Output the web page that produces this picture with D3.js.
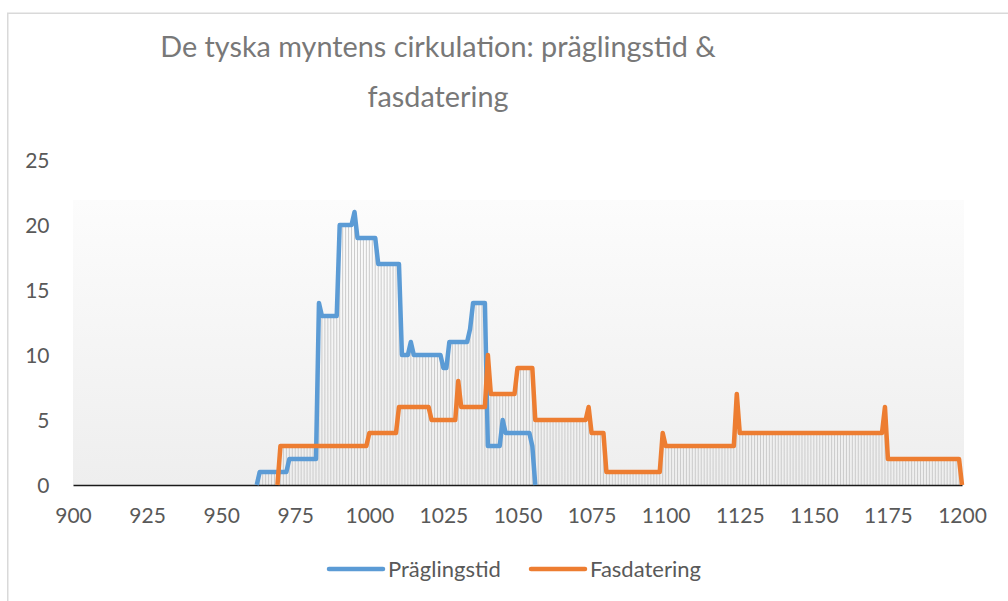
<!DOCTYPE html>
<html>
<head>
<meta charset="utf-8">
<script src="https://cdn.jsdelivr.net/npm/d3@7"></script>
<style>
  html, body { margin: 0; padding: 0; background: #ffffff; }
  svg { display: block; }
  text { font-family: Lato, "Open Sans", "Liberation Sans", sans-serif; }
</style>
</head>
<body>
<svg id="chart" width="1008" height="601"></svg>
<script>
// ---------- DATA ----------
const titleLines = ["De tyska myntens cirkulation: präglingstid &", "fasdatering"];
const seriesNames = ["Präglingstid", "Fasdatering"];
const seriesColors = ["#5b9bd5", "#ed7d31"];
const xTicks = [900, 925, 950, 975, 1000, 1025, 1050, 1075, 1100, 1125, 1150, 1175, 1200];
const yTicks = [0, 5, 10, 15, 20, 25];

// Präglingstid: one value per year, 962 .. 1056
const praglingStart = 962;
const praglingValues = [
  0, 1, 1, 1, 1, 1, 1, 1,                 // 962-969
  1, 1, 1, 2, 2, 2, 2, 2, 2, 2,           // 970-979
  2, 2, 2, 14, 13, 13, 13, 13, 13, 13,    // 980-989
  20, 20, 20, 20, 20, 21, 19, 19, 19, 19, // 990-999
  19, 19, 19, 17, 17, 17, 17, 17, 17, 17, // 1000-1009
  17, 10, 10, 10, 11, 10, 10, 10, 10, 10, // 1010-1019
  10, 10, 10, 10, 10, 9, 9, 11, 11, 11,   // 1020-1029
  11, 11, 11, 11, 12, 14, 14, 14, 14, 14, // 1030-1039
  3, 3, 3, 3, 3, 5, 4, 4, 4, 4,           // 1040-1049
  4, 4, 4, 4, 4, 3, 0                     // 1050-1056
];

// Fasdatering: one value per year, 969 .. 1200
const fasStart = 969;
const fasValues = [
  0,                                      // 969
  3, 3, 3, 3, 3, 3, 3, 3, 3, 3,           // 970-979
  3, 3, 3, 3, 3, 3, 3, 3, 3, 3,           // 980-989
  3, 3, 3, 3, 3, 3, 3, 3, 3, 3,           // 990-999
  4, 4, 4, 4, 4, 4, 4, 4, 4, 4,           // 1000-1009
  6, 6, 6, 6, 6, 6, 6, 6, 6, 6,           // 1010-1019
  6, 5, 5, 5, 5, 5, 5, 5, 5, 5,           // 1020-1029
  8, 6, 6, 6, 6, 6, 6, 6, 6, 6,           // 1030-1039
  10, 7, 7, 7, 7, 7, 7, 7, 7, 7,          // 1040-1049
  9, 9, 9, 9, 9, 9, 5, 5, 5, 5,           // 1050-1059
  5, 5, 5, 5, 5, 5, 5, 5, 5, 5,           // 1060-1069
  5, 5, 5, 5, 6, 4, 4, 4, 4, 4,           // 1070-1079
  1, 1, 1, 1, 1, 1, 1, 1, 1, 1,           // 1080-1089
  1, 1, 1, 1, 1, 1, 1, 1, 1, 4,           // 1090-1099
  3, 3, 3, 3, 3, 3, 3, 3, 3, 3,           // 1100-1109
  3, 3, 3, 3, 3, 3, 3, 3, 3, 3,           // 1110-1119
  3, 3, 3, 3, 7, 4, 4, 4, 4, 4,           // 1120-1129
  4, 4, 4, 4, 4, 4, 4, 4, 4, 4,           // 1130-1139
  4, 4, 4, 4, 4, 4, 4, 4, 4, 4,           // 1140-1149
  4, 4, 4, 4, 4, 4, 4, 4, 4, 4,           // 1150-1159
  4, 4, 4, 4, 4, 4, 4, 4, 4, 4,           // 1160-1169
  4, 4, 4, 4, 6, 2, 2, 2, 2, 2,           // 1170-1179
  2, 2, 2, 2, 2, 2, 2, 2, 2, 2,           // 1180-1189
  2, 2, 2, 2, 2, 2, 2, 2, 2, 2,           // 1190-1199
  0                                       // 1200
];

// ---------- BUILD ----------
const pragling = praglingValues.map((v, i) => ({ year: praglingStart + i, value: v }));
const fas = fasValues.map((v, i) => ({ year: fasStart + i, value: v }));
const series = [pragling, fas];

const svg = d3.select("#chart");
const x = d3.scaleLinear().domain([900, 1200]).range([73, 962]);
const y = d3.scaleLinear().domain([0, 25]).range([485, 160]);

// chart border (left + top visible)
svg.append("path")
  .attr("d", "M7.75,601 V13.25 H1008")
  .attr("fill", "none")
  .attr("stroke", "#d9d9d9")
  .attr("stroke-width", 1.5);

// plot area gradient
const defs = svg.append("defs");
const grad = defs.append("linearGradient").attr("id", "pa").attr("x1", 0).attr("y1", 0).attr("x2", 0).attr("y2", 1);
grad.append("stop").attr("offset", "0%").attr("stop-color", "#fcfcfc");
grad.append("stop").attr("offset", "100%").attr("stop-color", "#eeeeee");
svg.append("rect")
  .attr("x", 73).attr("y", 200)
  .attr("width", 891).attr("height", 285)
  .attr("fill", "url(#pa)");

// title
svg.append("g").selectAll("text").data(titleLines).join("text")
  .attr("x", 438)
  .attr("y", (d, i) => 57 + i * 50)
  .attr("text-anchor", "middle")
  .attr("fill", "#787878")
  .attr("font-size", 28.8)
  .text(d => d);

// drop lines: each year from highest series value to the axis
const byYear = new Map();
series.forEach(s => s.forEach(p => {
  byYear.set(p.year, Math.max(byYear.has(p.year) ? byYear.get(p.year) : -Infinity, p.value));
}));
const drops = Array.from(byYear, ([year, value]) => ({ year, value })).sort((a, b) => a.year - b.year);
svg.append("g").selectAll("line").data(drops).join("line")
  .attr("x1", d => x(d.year)).attr("x2", d => x(d.year))
  .attr("y1", d => y(d.value)).attr("y2", y(0))
  .attr("stroke", "#cbcbcb")
  .attr("stroke-width", 1);

// x axis
const xAxis = svg.append("g")
  .attr("transform", `translate(0,${y(0)})`)
  .call(d3.axisBottom(x).tickValues(xTicks).tickFormat(d3.format("d")).tickSize(0).tickSizeOuter(0));
xAxis.select(".domain").attr("stroke", "#1a1a1a").attr("stroke-width", 1.5);
xAxis.selectAll("text")
  .attr("y", 38).attr("dy", 0)
  .attr("fill", "#595959")
  .attr("font-size", 21)
  .attr("font-family", "Lato, 'Open Sans', sans-serif");

// y axis labels (no axis line)
const yAxis = svg.append("g")
  .attr("transform", "translate(49.5,0)")
  .call(d3.axisLeft(y).tickValues(yTicks).tickSize(0).tickPadding(0));
yAxis.select(".domain").remove();
yAxis.selectAll("text")
  .attr("x", 0).attr("dy", 7)
  .attr("fill", "#595959")
  .attr("font-size", 21)
  .attr("font-family", "Lato, 'Open Sans', sans-serif");

// series lines
const line = d3.line().x(d => x(d.year)).y(d => y(d.value));
svg.append("g").selectAll("path").data(series).join("path")
  .attr("d", line)
  .attr("fill", "none")
  .attr("stroke", (d, i) => seriesColors[i])
  .attr("stroke-width", 4.5)
  .attr("stroke-linejoin", "round");

// legend
const legendX = [329, 531];
const lg = svg.append("g").selectAll("g").data(seriesNames).join("g")
  .attr("transform", (d, i) => `translate(${legendX[i]},569)`);
lg.append("line")
  .attr("x1", 0).attr("x2", 54).attr("y1", 0).attr("y2", 0)
  .attr("stroke", (d, i) => seriesColors[i])
  .attr("stroke-width", 4.5)
  .attr("stroke-linecap", "round");
lg.append("text")
  .attr("x", 59).attr("y", 7.5)
  .attr("fill", "#595959")
  .attr("font-size", 22)
  .text(d => d);
</script>
</body>
</html>
